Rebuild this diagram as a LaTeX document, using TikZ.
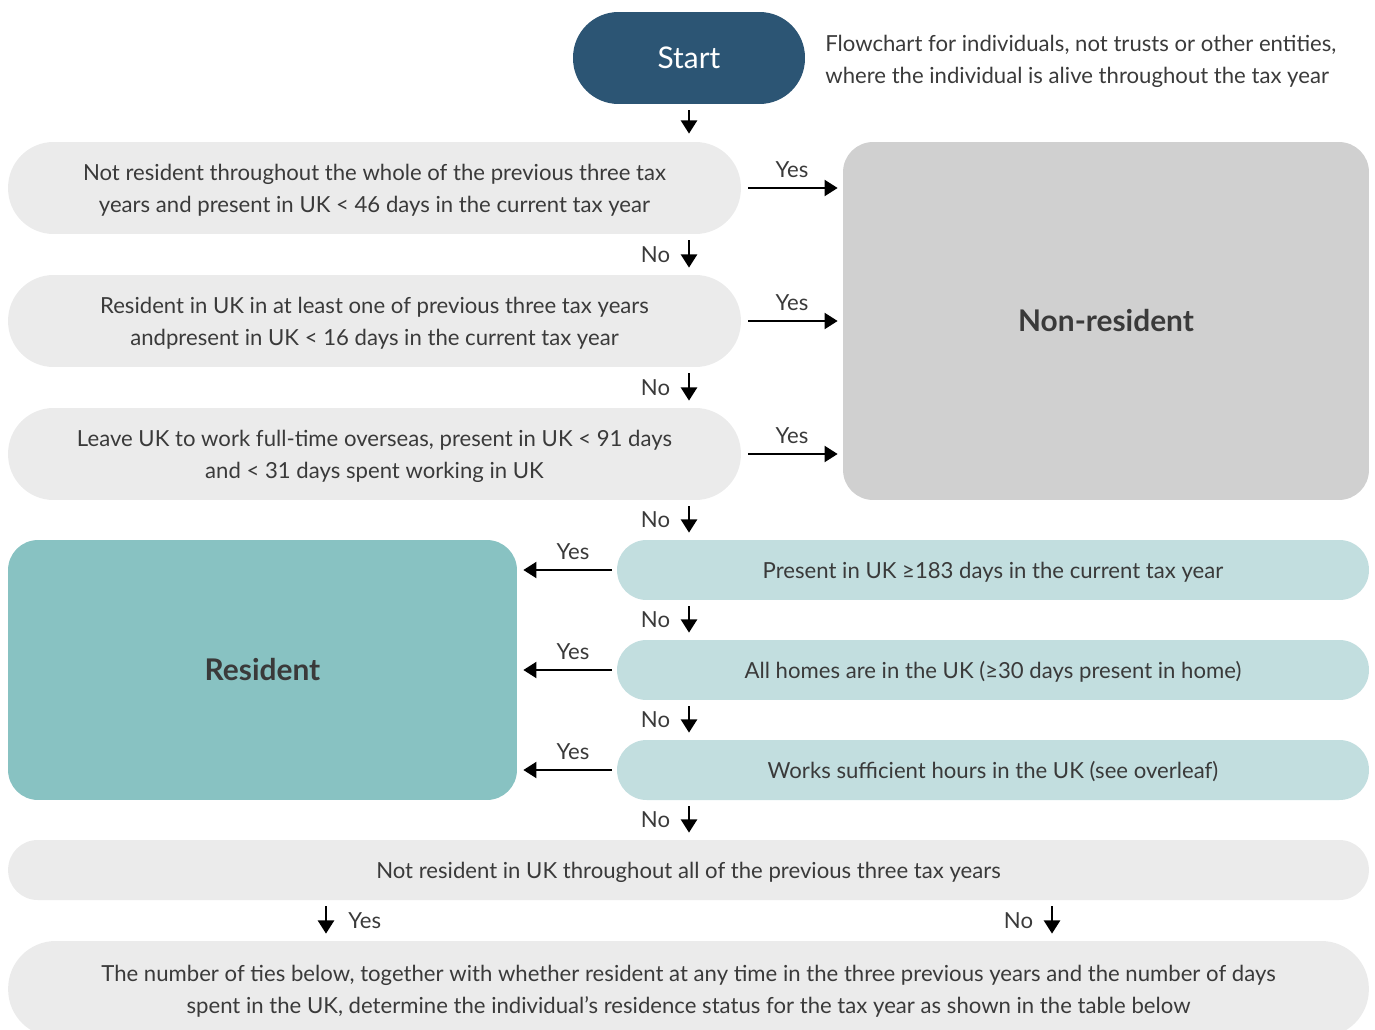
\documentclass[tikz,border=0pt]{standalone}
\usepackage{fontspec}
\setmainfont{Lato}
\usepackage{xcolor}
\usetikzlibrary{arrows.meta}
\definecolor{ink}{HTML}{3A3A3A}
\definecolor{navy}{HTML}{2C5574}
\definecolor{pale}{HTML}{EBEBEB}
\definecolor{stone}{HTML}{D0D0D0}
\definecolor{teal}{HTML}{88C2C2}
\definecolor{mint}{HTML}{C2DEDF}
\tikzset{
  body/.style={text=ink, font=\fontsize{12.6}{18.3}\selectfont, align=center, inner sep=0pt, text depth=0pt},
  big/.style={text=ink, font=\fontsize{17}{20}\selectfont\bfseries, inner sep=0pt},
  quest/.style={body, fill=pale, rounded corners=0.91cm, minimum width=14.66cm, minimum height=1.84cm},
  test/.style={body, fill=mint, rounded corners=0.59cm, minimum width=15.04cm, minimum height=1.2cm},
  wide/.style={body, fill=pale, rounded corners=0.59cm, minimum width=27.22cm, minimum height=1.2cm},
  arr/.style={draw=black, line width=1.6pt, -{Triangle[width=9pt,length=7.5pt]}},
  yeslab/.style={body, above=5pt},
  nolab/.style={body, left=10pt},
}

\begin{document}
\begin{tikzpicture}[x=0.02cm,y=-0.02cm]
  \clip (0,0) rectangle (1375,1030);
  % start and note
  \node[fill=navy, text=white, font=\fontsize{17}{20}\selectfont, rounded corners=0.91cm,
        minimum width=4.64cm, minimum height=1.84cm] (start) at (689,58) {Start};
  \node[body, align=left, anchor=west] (note) at (825,59)
    {Flowchart for individuals, not trusts or other entities,\\where the individual is alive throughout the tax year};
  % automatic overseas tests
  \node[quest] (q1) at (374.5,188) {Not resident throughout the whole of the previous three tax\\years and present in UK < 46 days in the current tax year};
  \node[quest] (q2) at (374.5,321) {Resident in UK in at least one of previous three tax years\\andpresent in UK < 16 days in the current tax year};
  \node[quest] (q3) at (374.5,454) {Leave UK to work full-time overseas, present in UK < 91 days\\and < 31 days spent working in UK};
  \node[big, fill=stone, rounded corners=0.6cm, minimum width=10.52cm, minimum height=7.16cm] (nonres) at (1106,321) {Non-resident};
  % automatic UK tests
  \node[big, fill=teal, rounded corners=0.6cm, minimum width=10.18cm, minimum height=5.2cm] (res) at (262.5,670) {Resident};
  \node[test] (r1) at (993,570) {Present in UK ≥183 days in the current tax year};
  \node[test] (r2) at (993,670) {All homes are in the UK (≥30 days present in home)};
  \node[test] (r3) at (993,770) {Works sufficient hours in the UK (see overleaf)};
  % sufficient ties
  \node[wide] (b1) at (688.5,870) {Not resident in UK throughout all of the previous three tax years};
  \node[wide, rounded corners=0.95cm, minimum height=1.92cm] (b2) at (688.5,989)
    {The number of ties below, together with whether resident at any time in the three previous years and the number of days\\spent in the UK, determine the individual’s residence status for the tax year as shown in the table below};
  \coordinate (yescol) at (326,0);
  \coordinate (nocol) at (1052,0);

  \draw[arr, shorten <=0.12cm, shorten >=0.16cm] (start.south) -- (start.south |- q1.north);
  \foreach \q in {q1,q2,q3}
    \draw[arr, shorten <=0.14cm, shorten >=0.1cm] (\q.east) -- node[yeslab] {Yes} (\q.east -| nonres.west);
  \foreach \a/\b in {q1/q2,q2/q3,q3/r1,r1/r2,r2/r3,r3/b1}
    \draw[arr, shorten <=0.12cm, shorten >=0.14cm] (\a.south -| start.south) -- node[nolab] {No} (\b.north -| start.south);
  \foreach \r in {r1,r2,r3}
    \draw[arr, shorten <=0.1cm, shorten >=0.12cm] (\r.west) -- node[yeslab, xshift=0.12cm] {Yes} (\r.west -| res.east);
  \draw[arr, shorten <=0.12cm, shorten >=0.14cm] (b1.south -| yescol) -- node[body, right=12pt] {Yes} (b2.north -| yescol);
  \draw[arr, shorten <=0.12cm, shorten >=0.14cm] (b1.south -| nocol) -- node[nolab] {No} (b2.north -| nocol);
\end{tikzpicture}
\end{document}
